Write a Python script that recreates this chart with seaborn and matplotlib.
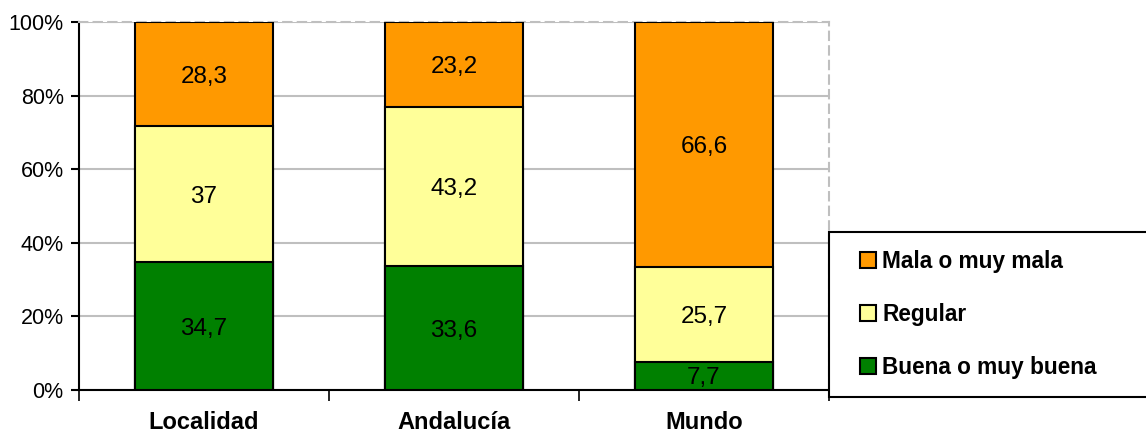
import matplotlib
matplotlib.use("Agg")
import matplotlib.pyplot as plt
import seaborn as sns
import numpy as np
import pandas as pd
from matplotlib.patches import Patch, Rectangle
from matplotlib.legend_handler import HandlerPatch

categories = ["Localidad", "Andalucía", "Mundo"]
series_names = ["Buena o muy buena", "Regular", "Mala o muy mala"]
buena = [34.7, 33.6, 7.7]
regular = [37, 43.2, 25.7]
mala = [28.3, 23.2, 66.6]
label_text = {
    "Buena o muy buena": ["34,7", "33,6", "7,7"],
    "Regular": ["37", "43,2", "25,7"],
    "Mala o muy mala": ["28,3", "23,2", "66,6"],
}
colors = {"Buena o muy buena": "#008000", "Regular": "#FFFF99", "Mala o muy mala": "#FF9900"}
yticks = [0, 20, 40, 60, 80, 100]
ytick_labels = ["0%", "20%", "40%", "60%", "80%", "100%"]

sns.set_theme(style="white")
plt.rcParams["font.family"] = ["Liberation Sans", "DejaVu Sans"]
plt.rcParams["text.color"] = "black"
plt.rcParams["xtick.color"] = "black"
plt.rcParams["ytick.color"] = "black"

fig = plt.figure(figsize=(11.46, 4.37), dpi=100)
ax = fig.add_axes([79 / 1146, 47 / 437, 750 / 1146, 368 / 437])

vals = {"Buena o muy buena": np.array(buena), "Regular": np.array(regular), "Mala o muy mala": np.array(mala)}
cum_b = vals["Buena o muy buena"]
cum_r = cum_b + vals["Regular"]
cum_m = cum_r + vals["Mala o muy mala"]
bottoms = {"Buena o muy buena": np.zeros(3), "Regular": cum_b, "Mala o muy mala": cum_r}

# Draw cumulative bars, tallest first
for name, cum in [("Mala o muy mala", cum_m), ("Regular", cum_r), ("Buena o muy buena", cum_b)]:
    df = pd.DataFrame({"cat": categories, "val": cum})
    sns.barplot(data=df, x="cat", y="val", color=colors[name], saturation=1,
                width=0.55, edgecolor="black", linewidth=1.5, ax=ax, zorder=3)

for name in series_names:
    centers = bottoms[name] + vals[name] / 2
    for i, (c, t) in enumerate(zip(centers, label_text[name])):
        ax.text(i, c, t, ha="center", va="center_baseline", fontsize=17.5, color="black", zorder=5)

ax.set_xlim(-0.5, 2.5)
ax.set_ylim(0, 100)
ax.set_yticks(yticks)
ax.set_yticklabels(ytick_labels, fontsize=15.5)
ax.set_xticks([0, 1, 2])
ax.set_xticklabels(categories, fontsize=17, fontweight="bold")
ax.set_xlabel("")
ax.set_ylabel("")
ax.tick_params(axis="x", length=0, pad=15)
ax.tick_params(axis="y", length=6, width=1.5, color="black", direction="out", left=True, pad=5)
# x boundary ticks
ax.set_xticks([-0.5, 0.5, 1.5, 2.5], minor=True)
ax.tick_params(axis="x", which="minor", length=8, width=1.2, color="black", direction="out", bottom=True)

ax.yaxis.grid(True, color="#BFBFBF", linewidth=1.5, zorder=0)
ax.set_axisbelow(True)
for s in ["left", "bottom"]:
    ax.spines[s].set_color("black")
    ax.spines[s].set_linewidth(1.5)
for s in ["top", "right"]:
    ax.spines[s].set_color("#BFBFBF")
    ax.spines[s].set_linewidth(1.5)
    ax.spines[s].set_linestyle((0, (4, 3)))


def square_patch(legend, orig_handle, xdescent, ydescent, width, height, fontsize):
    s = height
    return Rectangle((-xdescent + width - s, -ydescent), s, s)


handles = [Patch(facecolor=colors[n], edgecolor="black", linewidth=1.5, label=n)
           for n in ["Mala o muy mala", "Regular", "Buena o muy buena"]]
leg = ax.legend(handles=handles, loc="lower left",
                bbox_to_anchor=(829 / 1146, 40 / 437, 330 / 1146, 165 / 437),
                bbox_transform=fig.transFigure, mode="expand", borderaxespad=0,
                fancybox=False, frameon=True, handlelength=1.28, handleheight=0.7,
                handletextpad=0.28, labelspacing=1.33, borderpad=0.8,
                handler_map={Patch: HandlerPatch(patch_func=square_patch)},
                prop={"weight": "bold", "size": 16.3})
leg.get_frame().set_edgecolor("black")
leg.get_frame().set_linewidth(1.5)
leg.get_frame().set_alpha(1)
for t in leg.get_texts():
    t.set_color("black")

fig.savefig("out.png", dpi=100)
